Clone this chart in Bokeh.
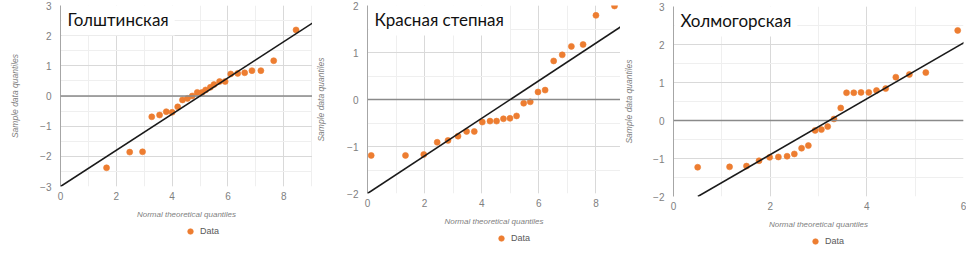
from bokeh.plotting import figure
from bokeh.layouts import row, column
from bokeh.models import Span, Slope, Label, Legend, LegendItem, SingleIntervalTicker
from bokeh.embed import file_html
from bokeh.resources import INLINE

# ---- data ----
titles = ["Голштинская", "Красная степная", "Холмогорская"]

p1_x = [1.65, 2.48, 2.94, 3.27, 3.55, 3.79, 4.0, 4.2, 4.37, 4.55, 4.72, 4.9, 5.07,
        5.2, 5.37, 5.5, 5.7, 5.9, 6.1, 6.35, 6.6, 6.86, 7.18, 7.64, 8.44]
p1_y = [-2.38, -1.86, -1.85, -0.69, -0.63, -0.52, -0.54, -0.36, -0.13, -0.08, 0.0, 0.12, 0.12,
        0.2, 0.29, 0.38, 0.48, 0.48, 0.73, 0.75, 0.77, 0.84, 0.84, 1.17, 2.19]

p2_x = [0.13, 1.33, 1.97, 2.44, 2.82, 3.17, 3.47, 3.74, 4.02, 4.29, 4.52, 4.76, 4.99,
        5.22, 5.47, 5.7, 5.97, 6.22, 6.52, 6.82, 7.14, 7.55, 8.0, 8.65]
p2_y = [-1.19, -1.19, -1.17, -0.91, -0.87, -0.78, -0.68, -0.68, -0.48, -0.46, -0.46, -0.41, -0.40,
        -0.35, -0.08, -0.05, 0.16, 0.2, 0.82, 0.95, 1.13, 1.17, 1.79, 1.99]

p3_x = [0.5, 1.16, 1.51, 1.77, 1.99, 2.17, 2.35, 2.5, 2.65, 2.79, 2.93, 3.06, 3.19,
        3.32, 3.46, 3.58, 3.73, 3.88, 4.04, 4.2, 4.39, 4.6, 4.88, 5.22, 5.88]
p3_y = [-1.23, -1.22, -1.2, -1.06, -0.97, -0.96, -0.94, -0.88, -0.73, -0.66, -0.26, -0.24, -0.16,
        0.04, 0.33, 0.73, 0.73, 0.74, 0.74, 0.79, 0.84, 1.14, 1.21, 1.26, 2.37]

# reference lines: (gradient, intercept)
lines = [(0.6, -3.0), (0.4, -2.0), (0.735, -2.37)]

x_ranges = [(0, 9.03), (0, 8.86), (0, 6.0)]
y_ranges = [(-3, 3), (-2, 2), (-2, 3)]

x_title = "Normal theoretical quantiles"
y_title = "Sample data quantiles"
legend_label = "Data"

# layout: (fig width, border_left, border_right, border_top, frame height)
geom = [(312, 60, 0, 5, 181), (308, 55, 0, 5, 188), (346, 53, 3, 6, 190)]
BOTTOM = 38
ylab_standoff = [17, 18, 16]
legend_dx = [183, 182, 188]
LEG_H = 14

ORANGE = "#ED7D31"
TICK_COL = "#808080"
TITLE_COL = "#7f7f7f"

cols = []
for i in range(3):
    W, bl, br, bt, fh = geom[i]
    fw = W - bl - br
    H = bt + fh + BOTTOM
    p = figure(width=W, height=H, frame_width=fw, frame_height=fh,
               x_range=x_ranges[i], y_range=y_ranges[i],
               output_backend="svg", toolbar_location=None,
               min_border_left=bl, min_border_right=br, min_border_top=bt,
               min_border_bottom=BOTTOM)
    p.outline_line_color = None
    p.background_fill_color = "white"
    p.border_fill_color = "white"

    p.xaxis.ticker = SingleIntervalTicker(interval=2, num_minor_ticks=2)
    p.yaxis.ticker = SingleIntervalTicker(interval=1, num_minor_ticks=2)

    for ax in (p.xaxis[0], p.yaxis[0]):
        ax.major_tick_line_color = None
        ax.minor_tick_line_color = None
        ax.major_tick_out = 0
        ax.major_tick_in = 0
        ax.minor_tick_out = 0
        ax.minor_tick_in = 0
        ax.major_label_text_color = TICK_COL
        ax.major_label_text_font = "Liberation Sans"
        ax.major_label_text_font_size = "10px"
        ax.axis_label_text_font = "Liberation Sans"
        ax.axis_label_text_font_style = "italic"
        ax.axis_label_text_color = TITLE_COL
    p.xaxis.axis_label_text_font_size = "8px"
    p.yaxis.axis_label_text_font_size = "8.5px"
    p.xaxis.axis_line_color = None
    p.yaxis.axis_line_color = "#a6a6a6"
    p.xaxis.major_label_standoff = 5
    p.yaxis.major_label_standoff = 9
    p.xaxis.axis_label = x_title
    p.xaxis.axis_label_standoff = 7
    p.yaxis.axis_label = y_title
    p.yaxis.axis_label_standoff = ylab_standoff[i]

    p.xgrid.grid_line_color = "#d9d9d9"
    p.ygrid.grid_line_color = "#d9d9d9"
    p.xgrid.minor_grid_line_color = "#efefef"
    p.ygrid.minor_grid_line_color = "#efefef"

    p.add_layout(Span(location=0, dimension="width", line_color="#8a8a8a", line_width=1.5))

    g, b = lines[i]
    p.add_layout(Slope(gradient=g, y_intercept=b, line_color="#1a1a1a", line_width=1.6))

    xs, ys = [(p1_x, p1_y), (p2_x, p2_y), (p3_x, p3_y)][i]
    p.scatter(xs, ys, size=6, fill_color=ORANGE, line_color=ORANGE, line_alpha=0.6)

    # panel title in a white box
    lab = Label(x=x_ranges[i][0], y=y_ranges[i][1], text=titles[i],
                text_font="Lato", text_font_size="17px", text_color="#111111",
                text_align="left", text_baseline="top",
                background_fill_color="white", x_offset=1, y_offset=3,
                padding=6)
    p.add_layout(lab)

    # legend strip underneath the panel (series drawn out of view; only its legend entry shows)
    y_top = y_ranges[i][1]
    lf = figure(width=W, height=LEG_H, frame_width=W, frame_height=LEG_H,
                x_range=x_ranges[i], y_range=(y_top + 10, y_top + 11),
                x_axis_type=None, y_axis_type=None,
                output_backend="svg", toolbar_location=None,
                min_border_left=0, min_border_right=0, min_border_top=0,
                min_border_bottom=0)
    lf.outline_line_color = None
    lf.xgrid.visible = False
    lf.ygrid.visible = False
    lr = lf.scatter(xs, ys, size=6, fill_color=ORANGE, line_color=ORANGE, line_alpha=0.6)
    leg = Legend(items=[LegendItem(label=legend_label, renderers=[lr])],
                 orientation="horizontal", location=(legend_dx[i], 0),
                 border_line_color=None, background_fill_alpha=0,
                 label_text_font="Liberation Sans", label_text_font_size="9px",
                 label_text_color="#595959", glyph_width=LEG_H, glyph_height=LEG_H,
                 label_height=LEG_H, margin=0, padding=0, label_standoff=3)
    lf.add_layout(leg, "center")
    cols.append(column(p, lf, spacing=0))

layout = row(*cols, spacing=0)
open("out.html", "w").write(file_html(layout, INLINE))
